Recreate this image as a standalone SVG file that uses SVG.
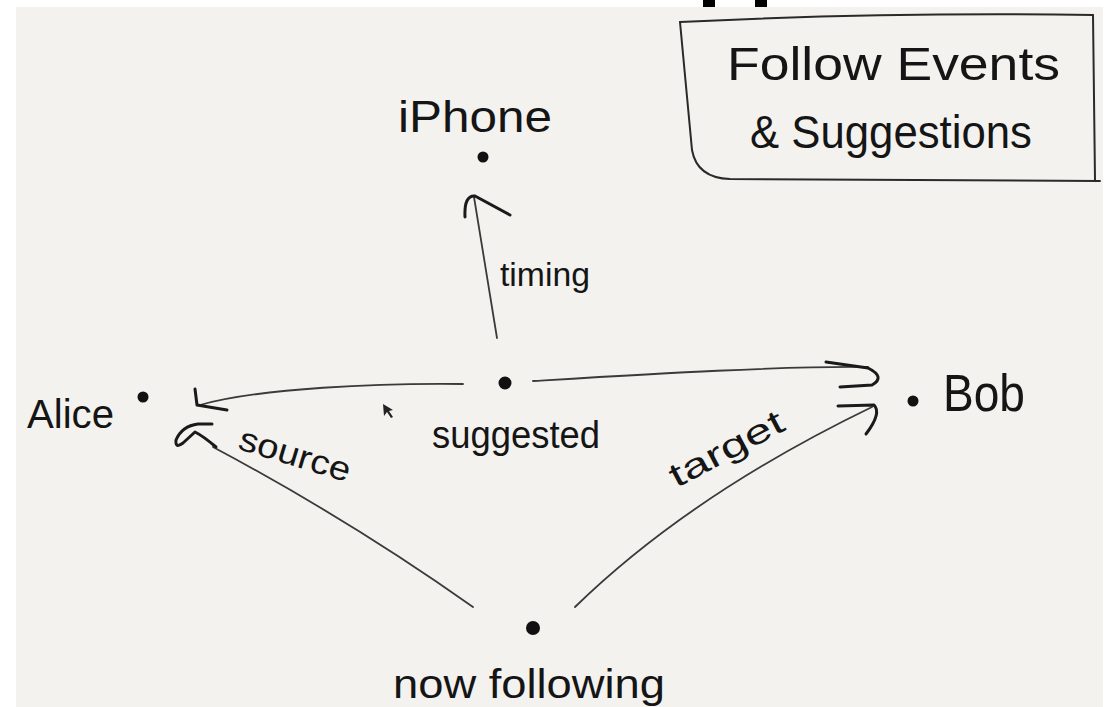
<svg xmlns="http://www.w3.org/2000/svg" width="1110" height="707" viewBox="0 0 1110 707">
  <style>
    .lbl { font-family: "Liberation Sans", "DejaVu Sans", sans-serif; fill: #151515; }
    .edge { fill: none; stroke: #3a3a3a; stroke-width: 1.8; stroke-linecap: round; }
    .head { fill: none; stroke: #1a1a1a; stroke-width: 3; stroke-linecap: round; stroke-linejoin: round; }
    .dot { fill: #111; }
    .frame { fill: none; stroke: #2a2a2a; stroke-width: 2; stroke-linecap: round; }
  </style>
  <rect x="0" y="0" width="1110" height="707" fill="#ffffff"/>
  <rect x="16" y="7" width="1087" height="700" fill="#f3f2ef"/>
  <rect x="703" y="0" width="12" height="7" fill="#000"/>
  <rect x="755" y="0" width="12" height="7" fill="#000"/>

  <g id="title">
    <path class="frame" d="M680,22 Q885,12 1093,15"/>
    <path class="frame" d="M680,22 L692,150 Q697,178 730,179 L1100,181"/>
    <path class="frame" d="M1093,15 L1095,180"/>
    <text class="lbl" x="727" y="80" font-size="46" textLength="333" lengthAdjust="spacingAndGlyphs">Follow Events</text>
    <text class="lbl" x="750" y="148" font-size="46" textLength="282" lengthAdjust="spacingAndGlyphs">&amp; Suggestions</text>
  </g>

  <g id="connectors">
    <g id="edge-timing">
      <path class="edge" d="M497,338 L474,197"/>
      <path class="head" d="M465,217 Q464,195 475,196 L510,215"/>
      <text class="lbl" x="500" y="286" font-size="34" textLength="90" lengthAdjust="spacingAndGlyphs">timing</text>
    </g>
    <g id="edge-to-alice">
      <path class="edge" d="M463,384 C380,383 260,388 200,405"/>
      <path class="head" d="M195,389 L197,405 L227,410"/>
    </g>
    <g id="edge-to-bob">
      <path class="edge" d="M533,381 C650,374 780,366 868,367"/>
      <path class="head" d="M826,362 L868,368 Q886,377 872,385 L840,387"/>
    </g>
    <g id="edge-source">
      <path class="edge" d="M473,607 Q350,520 213,447"/>
      <path class="head" d="M212,424 L198,424 Q182,426 176,440 Q175,449 183,443 L195,432 Q203,436 216,447"/>
      <text class="lbl" x="295" y="466" font-size="34" text-anchor="middle" textLength="115" lengthAdjust="spacingAndGlyphs" transform="rotate(17 295 455)">source</text>
    </g>
    <g id="edge-target">
      <path class="edge" d="M575,607 Q690,495 872,407"/>
      <path class="head" d="M838,406 L874,405 Q882,413 866,434"/>
      <text class="lbl" x="727" y="460" font-size="34" text-anchor="middle" textLength="125" lengthAdjust="spacingAndGlyphs" transform="rotate(-28 727 450)">target</text>
    </g>
  </g>

  <g id="node-iphone">
    <text class="lbl" x="398" y="132" font-size="44" textLength="154" lengthAdjust="spacingAndGlyphs">iPhone</text>
    <circle class="dot" cx="483" cy="157" r="5.5"/>
  </g>
  <g id="node-suggested">
    <circle class="dot" cx="505" cy="383" r="6.5"/>
    <text class="lbl" x="432" y="448" font-size="38" textLength="168" lengthAdjust="spacingAndGlyphs">suggested</text>
  </g>
  <g id="node-alice">
    <text class="lbl" x="27" y="428" font-size="40" textLength="87" lengthAdjust="spacingAndGlyphs">Alice</text>
    <circle class="dot" cx="143" cy="397" r="5.5"/>
  </g>
  <g id="node-bob">
    <circle class="dot" cx="913" cy="401" r="5.5"/>
    <text class="lbl" x="943" y="411" font-size="52" textLength="82" lengthAdjust="spacingAndGlyphs">Bob</text>
  </g>
  <g id="node-now-following">
    <circle class="dot" cx="533" cy="628" r="7"/>
    <text class="lbl" x="393" y="698" font-size="40" textLength="272" lengthAdjust="spacingAndGlyphs">now following</text>
  </g>
  <g id="cursor">
    <path d="M383,404 L384,416 L387,412 L391,418 L393,417 L389,411 L393,410 Z" fill="#222"/>
  </g>
</svg>
